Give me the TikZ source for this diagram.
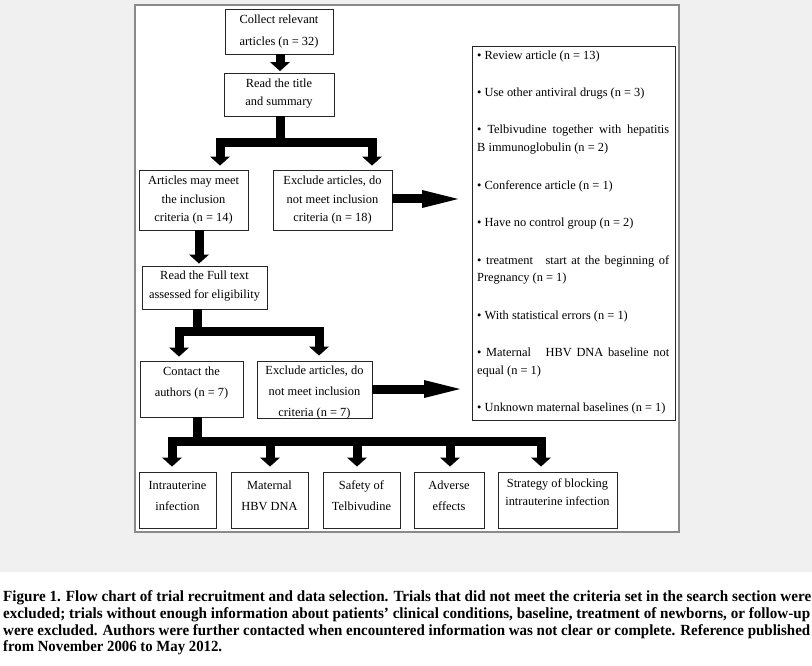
\documentclass[tikz,border=0pt]{standalone}
\usepackage{fontspec}
\usepackage{graphicx}
\setmainfont{Liberation Serif}
\usetikzlibrary{arrows.meta}
\definecolor{bggray}{HTML}{F0F0F0}
\definecolor{framegray}{HTML}{8A8A8A}
\begin{document}
\begin{tikzpicture}[x=1pt,y=-1pt,
  boxst/.style={draw=black!85, line width=0.9pt, fill=white, inner sep=0pt},
  lbl/.style={font=\fontsize{12.4}{#1}\selectfont, align=center, inner sep=0pt},
  itemst/.style={font=\fontsize{12.4}{15}\selectfont, anchor=base west, inner sep=0pt},
  capst/.style={font=\fontsize{15.5}{16}\selectfont\bfseries, anchor=base west, inner sep=0pt},
  shaft/.style={line width=9pt, line join=miter, draw=black,
    -{Triangle[width=20pt,length=9pt,line width=0pt]}},
  bigarrow/.style={line width=9pt, draw=black,
    -{Triangle[width=18pt,length=36pt,line width=0pt]}}
]
\useasboundingbox (0,0) rectangle (812,666);
\fill[bggray] (0,0) rectangle (812,572);
\draw[framegray, fill=white, line width=1.2pt] (135,5) rectangle (679,532);

% boxes
\node[boxst, minimum width=108pt, minimum height=45pt] (b1) at (279,31.5) {};
\node[boxst, minimum width=110pt, minimum height=43pt] (b2) at (279,94.5) {};
\node[boxst, minimum width=109pt, minimum height=60pt] (b3) at (193.5,200) {};
\node[boxst, minimum width=119pt, minimum height=60pt] (b4) at (332.5,200) {};
\node[boxst, minimum width=125pt, minimum height=43pt] (b5) at (204.5,287.5) {};
\node[boxst, minimum width=103pt, minimum height=56pt] (b6) at (191.5,389) {};
\node[boxst, minimum width=115pt, minimum height=57pt] (b7) at (314.5,389.5) {};
\node[boxst, minimum width=203pt, minimum height=374pt] (lst) at (573.5,233) {};
\node[boxst, minimum width=77pt, minimum height=56pt] (c1) at (177.5,500) {};
\node[boxst, minimum width=77pt, minimum height=56pt] (c2) at (269.5,500) {};
\node[boxst, minimum width=77pt, minimum height=56pt] (c3) at (361.5,500) {};
\node[boxst, minimum width=70pt, minimum height=56pt] (c4) at (449,500) {};
\node[boxst, minimum width=119pt, minimum height=56pt] (c5) at (557.5,500) {};

% box texts
\node[lbl=22] (t1) at (279,32) {Collect relevant\\articles (n = 32)};
\node[lbl=18] (t2) at (279,94) {Read the title\\and summary};
\node[lbl=18.5] (t3) at (193.5,200.5) {Articles may meet\\the inclusion\\criteria (n = 14)};
\node[lbl=18.5] (t4) at (332.5,200.5) {Exclude articles, do\\not meet inclusion\\criteria (n = 18)};
\node[lbl=19] (t5) at (204.5,286.5) {Read the Full text\\assessed for eligibility};
\node[lbl=21] (t6) at (191.5,383.5) {Contact the\\authors (n = 7)};
\node[lbl=21] (t7) at (314.5,392.5) {Exclude articles, do\\not meet inclusion\\criteria (n = 7)};
\node[lbl=21] (u1) at (177.5,495.5) {Intrauterine\\infection};
\node[lbl=21] (u2) at (269.5,495.5) {Maternal\\HBV DNA};
\node[lbl=21] (u3) at (361.5,495.5) {Safety of\\Telbivudine};
\node[lbl=21] (u4) at (449,495.5) {Adverse\\effects};
\node[lbl=18] (u5) at (557.5,492) {Strategy of blocking\\intrauterine infection};

% list items
\node[itemst] (l1) at (477,60) {• Review article (n = 13)};
\node[itemst] (l2) at (477,97) {• Use other antiviral drugs (n = 3)};
\node[itemst] (l3a) at (477,134) {\makebox[192pt][s]{• Telbivudine together with hepatitis}};
\node[itemst] (l3b) at (477,152) {B immunoglobulin (n = 2)};
\node[itemst] (l4) at (477,190) {• Conference article (n = 1)};
\node[itemst] (l5) at (477,226) {• Have no control group (n = 2)};
\node[itemst] (l6a) at (477,264) {\makebox[192pt][s]{• treatment\hspace{8pt} start at the beginning of}};
\node[itemst] (l6b) at (477,281) {Pregnancy (n = 1)};
\node[itemst] (l7) at (477,319) {• With statistical errors (n = 1)};
\node[itemst] (l8a) at (477,356) {\makebox[192pt][s]{• Maternal\hspace{10pt} HBV DNA baseline not}};
\node[itemst] (l8b) at (477,374) {equal (n = 1)};
\node[itemst] (l9) at (477,411) {• Unknown maternal baselines (n = 1)};

% connectors
\coordinate (j2) at (280,143);
\coordinate (d2l) at (220,143);
\coordinate (d2r) at (372,143);
\coordinate (j4) at (197,331);
\coordinate (d4l) at (179,331);
\coordinate (d4r) at (319,331);
\coordinate (j5) at (197.5,441);
\coordinate (e1) at (172,441);
\coordinate (e2) at (270,441);
\coordinate (e3) at (357,441);
\coordinate (e4) at (450,441);
\coordinate (e5) at (541,441);

\draw[shaft, shorten >=1.5pt] ([xshift=1pt]b1.south) -- ([xshift=1pt]b2.north);
\draw[shaft, shorten >=4pt] (j2 |- b2.south) -- (j2) -- (d2l) -- (d2l |- b3.north);
\draw[shaft, shorten >=4pt] (j2) -- (d2r) -- (d2r |- b4.north);
\draw[shaft, shorten >=2pt] ([xshift=5.5pt]b3.south) -- ([xshift=5.5pt]b3.south |- b5.north);
\draw[shaft, shorten >=4pt] (j4 |- b5.south) -- (j4) -- (d4l) -- (d4l |- b6.north);
\draw[shaft, shorten >=5pt] (j4) -- (d4r) -- (d4r |- b7.north);
\draw[shaft, shorten >=5pt] (j5 |- b6.south) -- (j5) -- (e1) -- (e1 |- c1.north);
\draw[shaft, shorten >=5pt] (e2) -- (e2 |- c2.north);
\draw[shaft, shorten >=5pt] (e3) -- (e3 |- c3.north);
\draw[shaft, shorten >=5pt] (e4) -- (e4 |- c4.north);
\draw[shaft, shorten >=5pt] (j5) -- (e5) -- (e5 |- c5.north);
\draw[bigarrow] (b4.east |- 0,199) -- (458,199);
\draw[bigarrow] (b7.east |- 0,389) -- (460,389);

% caption
\node[capst] (cap1) at (3,601.7) {\resizebox{808pt}{\height}{Figure 1. Flow chart of trial recruitment and data selection. Trials that did not meet the criteria set in the search section were}};
\node[capst] (cap2) at (3,618.3) {\resizebox{807pt}{\height}{excluded; trials without enough information about patients’ clinical conditions, baseline, treatment of newborns, or follow-up}};
\node[capst] (cap3) at (3,635) {\resizebox{807pt}{\height}{were excluded. Authors were further contacted when encountered information was not clear or complete. Reference published}};
\node[capst] (cap4) at (3,651.7) {\resizebox{219pt}{\height}{from November 2006 to May 2012.}};
\end{tikzpicture}
\end{document}
